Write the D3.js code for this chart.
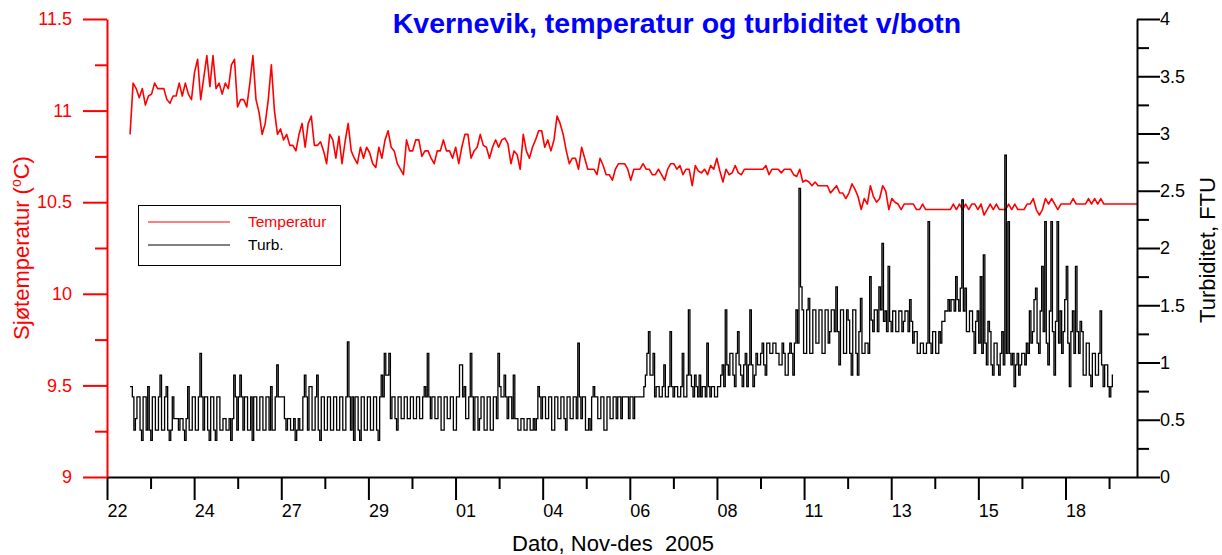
<!DOCTYPE html>
<html><head><meta charset="utf-8">
<script src="https://cdn.jsdelivr.net/npm/d3@7"></script>
<style>
body{margin:0;background:#fff;}
svg{display:block;font-family:"Liberation Sans",Arial,Helvetica,sans-serif;}
</style></head><body>
<svg id="chart" width="1222" height="555"></svg>
<script>
// time: days after 22 Nov 2005 00:00; both series start 22 Nov 15:00
const sampleStartDay = 0.625;
const tempStepDays = 2 / 24;   // temperature every 2 hours
const turbStepDays = 1 / 24;   // turbidity every hour
const xEndDay = 27.94;

// x tick labels (day of month), evenly spaced ticks
const xTickLabels = ['22','24','27','29','01','04','06','08','11','13','15','18'];
const xTickSpacingDays = 26 / 11;

const tempTicks = [9, 9.5, 10, 10.5, 11, 11.5];
const tempMinorTicks = [9.25, 9.75, 10.25, 10.75, 11.25];
const turbTicks = [0, 0.5, 1, 1.5, 2, 2.5, 3, 3.5, 4];
const turbMinorTicks = [0.25, 0.75, 1.25, 1.75, 2.25, 2.75, 3.25, 3.75];

const legendLabels = ['Temperatur', 'Turb.'];

// Sea temperature (°C)
const temperature = [
10.87,11.15,11.12,11.07,11.12,11.03,11.08,11.09,11.15,11.12,
11.12,11.12,11.06,11.04,11.08,11.08,11.15,11.08,11.15,11.09,
11.06,11.21,11.28,11.06,11.18,11.30,11.13,11.30,11.12,11.15,
11.09,11.15,11.12,11.25,11.28,11.02,11.06,11.06,11.02,11.15,
11.30,11.06,10.99,10.87,10.93,11.06,11.25,11.00,10.87,10.90,
10.84,10.87,10.81,10.81,10.78,10.87,10.93,10.80,10.93,10.97,
10.81,10.81,10.83,10.78,10.71,10.87,10.84,10.74,10.86,10.71,
10.83,10.93,10.78,10.74,10.71,10.80,10.74,10.80,10.77,10.71,
10.69,10.80,
10.74,10.84,10.89,10.80,10.78,10.71,10.68,10.65,10.84,10.78,
10.78,10.84,10.84,10.75,10.78,10.78,10.74,10.71,10.78,10.78,
10.84,10.78,10.78,10.74,10.80,10.71,10.80,10.87,10.87,10.74,
10.78,10.80,10.87,10.81,10.80,10.74,10.80,10.84,10.80,10.84,
10.85,10.82,10.71,10.78,10.76,10.68,10.87,10.78,10.74,10.80,
10.84,10.89,10.89,10.80,10.84,10.78,10.84,10.97,10.93,10.87,
10.78,10.71,10.74,10.74,10.68,10.80,10.74,10.68,10.68,10.68,
10.65,10.74,10.70,10.65,10.65,10.62,10.68,10.71,10.71,10.71,
10.68,10.62,
10.68,10.68,10.68,10.71,10.68,10.68,10.65,10.65,10.68,10.65,
10.62,10.68,10.71,10.71,10.68,10.70,10.65,10.68,10.68,10.59,
10.70,10.67,10.66,10.68,10.65,10.70,10.68,10.74,10.67,10.61,
10.68,10.65,10.66,10.70,10.66,10.65,10.68,10.68,10.68,10.68,
10.68,10.68,10.68,10.70,10.65,10.68,10.68,10.68,10.66,10.68,
10.68,10.68,10.65,10.64,10.68,10.61,10.62,10.61,10.59,10.61,
10.59,10.59,10.59,10.59,10.55,10.57,10.59,10.55,10.55,10.52,
10.55,10.60,10.57,10.53,10.46,10.52,10.49,10.59,10.53,10.50,
10.52,
10.59,10.56,10.46,10.52,10.50,10.49,10.46,10.49,10.49,10.49,
10.49,10.46,10.46,10.49,10.46,10.46,10.46,10.46,10.46,10.46,
10.46,10.46,10.46,10.49,10.46,10.49,10.46,10.49,10.46,10.49,
10.49,10.46,10.49,10.43,10.46,10.49,10.46,10.49,10.46,10.46,
10.46,10.49,10.46,10.49,10.46,10.46,10.46,10.49,10.49,10.52,
10.46,10.43,10.46,10.52,10.49,10.52,10.49,10.46,10.49,10.49,
10.49,10.49,10.52,10.49,10.49,10.49,10.49,10.52,10.49,10.52,
10.49,10.52,10.49,10.49,10.49,10.49,10.49,10.49,10.49,10.49,
10.49,10.49,10.49,10.49
];

// Turbidity (FTU), hourly
const turbidity = [
0.79,0.79,0.70,0.41,0.51,0.70,0.70,0.41,0.32,0.70,0.70,0.41,0.79,0.41,0.32,0.70,0.70,0.41,0.41,0.70,
0.89,0.41,0.41,0.70,0.79,0.41,0.32,0.41,0.70,0.51,0.51,0.51,0.41,0.51,0.51,0.41,0.32,0.51,0.79,0.41,
0.41,0.70,0.70,0.41,0.41,0.70,1.08,0.70,0.41,0.70,0.70,0.41,0.32,0.70,0.70,0.41,0.32,0.70,0.70,0.41,
0.41,0.51,0.51,0.41,0.41,0.51,0.32,0.51,0.89,0.70,0.41,0.70,0.89,0.70,0.41,0.70,0.70,0.41,0.41,0.70,
0.32,0.70,0.70,0.41,0.41,0.70,0.70,0.41,0.41,0.70,0.70,0.41,0.79,0.41,0.41,0.70,0.98,0.70,0.70,0.70,
0.70,0.51,0.41,0.51,0.51,0.41,0.41,0.51,0.32,0.41,0.51,0.41,0.41,0.70,0.89,0.70,0.41,0.79,0.79,0.41,
0.41,0.70,0.89,0.41,0.32,0.70,0.70,0.41,0.41,0.70,0.70,0.41,0.41,0.70,0.70,0.41,0.41,0.70,0.70,0.41,
0.41,0.70,1.18,0.70,0.41,0.70,0.32,0.70,0.70,0.41,0.32,0.70,0.70,0.41,0.41,0.70,0.70,0.41,0.41,0.70,
0.70,0.41,0.32,0.70,
0.89,0.70,1.08,0.89,0.89,1.08,0.51,0.70,0.70,0.51,0.41,0.70,0.70,0.51,0.51,0.70,0.70,0.51,0.51,0.70,
0.70,0.51,0.51,0.70,0.70,0.51,0.51,0.70,0.79,0.70,1.08,0.70,0.51,0.70,0.70,0.51,0.51,0.70,0.70,0.41,
0.41,0.70,0.70,0.51,0.51,0.70,0.70,0.41,0.41,0.70,0.70,0.98,0.98,0.70,0.79,0.51,0.51,0.70,1.08,0.70,
0.41,0.70,0.70,0.41,0.51,0.70,0.70,0.41,0.41,0.70,0.70,0.41,0.41,0.70,0.70,0.51,1.08,0.79,0.70,0.70,
0.89,0.70,0.51,0.70,0.70,0.51,0.89,0.51,0.51,0.41,0.41,0.51,0.51,0.41,0.41,0.51,0.51,0.41,0.41,0.51,
0.41,0.51,0.79,0.70,0.51,0.70,0.70,0.51,0.51,0.70,0.70,0.41,0.41,0.70,0.70,0.51,0.51,0.70,0.70,0.51,
0.41,0.70,0.70,0.51,0.51,0.70,0.70,0.51,1.17,0.70,0.51,0.70,0.70,0.41,0.41,0.51,0.41,0.70,0.79,0.70,
0.70,0.51,0.51,0.70,0.70,0.41,0.41,0.70,0.70,0.51,0.51,0.70,0.70,0.51,0.70,0.70,0.51,0.70,0.70,0.70,
0.70,0.51,0.70,0.70,
0.51,0.70,0.70,0.70,0.70,0.70,0.70,0.79,0.89,1.08,1.27,0.89,0.89,1.08,0.70,0.79,0.79,0.70,0.70,0.79,
0.98,0.70,0.70,0.79,1.27,0.79,0.70,0.79,0.79,0.70,0.70,0.79,1.08,0.70,0.70,0.89,1.46,0.89,0.79,0.70,
0.89,0.79,0.70,0.89,0.70,0.79,0.79,0.70,1.17,0.79,0.70,0.79,0.79,0.70,0.70,0.79,0.79,0.89,0.98,0.79,
1.46,0.98,0.89,1.08,1.08,0.89,0.79,1.08,1.27,0.98,0.89,0.79,0.98,1.08,0.79,0.98,1.46,0.98,0.79,0.89,
1.08,0.98,0.98,1.08,1.17,0.98,0.89,1.17,1.17,1.08,1.08,1.17,1.17,1.08,1.08,0.98,0.98,1.17,1.08,0.89,
0.89,1.08,1.17,1.08,0.89,1.17,1.46,1.17,2.52,1.66,1.46,1.08,1.08,1.46,1.56,1.08,1.08,1.46,1.46,1.17,
1.17,1.46,1.46,1.08,1.08,1.46,1.46,1.17,1.27,1.46,1.46,1.27,1.66,1.27,0.98,1.46,1.46,1.08,1.08,1.46,
1.37,1.08,0.89,1.46,1.46,1.08,0.89,1.27,1.56,1.08,1.08,1.17,1.17,1.08,1.75,1.37,1.27,1.46,1.46,1.27,
1.66,1.46,
2.04,1.36,1.45,1.27,1.84,1.36,1.27,1.45,1.45,1.27,1.27,1.45,1.45,1.27,1.36,1.45,1.45,1.27,1.55,1.36,
1.17,1.27,1.27,1.08,1.08,1.17,1.17,1.08,1.08,1.17,2.23,1.17,1.08,1.27,1.27,1.08,1.08,1.27,1.17,1.36,
1.36,1.45,1.45,1.55,1.45,1.55,1.55,1.45,1.75,1.55,1.45,1.65,2.42,1.45,1.65,1.27,1.27,1.45,1.45,1.27,
1.08,1.36,1.45,1.17,1.75,1.08,1.94,1.17,0.98,1.36,1.27,0.98,0.89,1.17,1.17,0.98,0.89,1.08,1.27,0.98,
2.81,1.08,2.23,1.08,0.98,1.08,0.79,0.98,1.08,0.89,0.98,1.08,1.08,0.98,1.17,1.08,1.45,1.17,1.27,1.55,
1.65,1.17,1.08,1.45,1.84,1.27,2.23,1.17,0.98,1.45,2.23,1.27,0.89,1.36,2.23,1.17,1.45,1.08,1.27,1.55,
1.84,1.17,0.79,1.27,1.45,1.08,1.84,1.27,1.08,1.36,1.27,0.89,0.89,1.17,1.17,0.89,0.79,1.08,1.08,0.89,
0.89,1.08,1.45,0.98,0.79,0.98,0.98,0.79,0.70,0.79,0.89
];

const svg = d3.select('#chart');
const L = 107, R = 1137, T = 19, B = 477;
const RED = '#ff0000';

const x = d3.scaleLinear().domain([0, xEndDay]).range([L, R]);
const yT = d3.scaleLinear().domain([9, 11.5]).range([B, T]);
const yB = d3.scaleLinear().domain([0, 4]).range([B, T]);

const xMajor = xTickLabels.map((_, i) => i * xTickSpacingDays);
const xMinor = xTickLabels.map((_, i) => (i + 0.5) * xTickSpacingDays).filter(d => d < xEndDay);

function styleAxis(g, color, fs) {
  g.selectAll('path').attr('stroke', color).attr('stroke-width', 2);
  g.selectAll('line').attr('stroke', color).attr('stroke-width', 2);
  g.selectAll('text').attr('fill', color).style('font-size', fs + 'px').style('font-family', '"Liberation Sans",Arial,sans-serif');
}

// series
svg.append('path').datum(temperature)
  .attr('fill', 'none').attr('stroke', RED).attr('stroke-width', 1.6).attr('stroke-linejoin', 'round')
  .attr('d', d3.line().x((d, i) => x(sampleStartDay + i * tempStepDays)).y(d => yT(d)));
svg.append('path').datum(turbidity)
  .attr('fill', 'none').attr('stroke', '#000').attr('stroke-width', 1.3)
  .attr('d', d3.line().curve(d3.curveStep).x((d, i) => x(sampleStartDay + i * turbStepDays)).y(d => yB(d)));

// bottom axis
const gxm = svg.append('g').attr('transform', `translate(0,${B})`)
  .call(d3.axisBottom(x).tickValues(xMinor).tickSize(12).tickSizeOuter(0).tickFormat(''));
gxm.select('.domain').remove();
styleAxis(gxm, '#000', 18);
const gx = svg.append('g').attr('transform', `translate(0,${B})`)
  .call(d3.axisBottom(x).tickValues(xMajor).tickSize(23).tickSizeOuter(0).tickPadding(4)
    .tickFormat((d, i) => xTickLabels[i]));
styleAxis(gx, '#000', 18);
gx.selectAll('text').attr('text-anchor', 'start');

// left axis (temperature)
const gym = svg.append('g').attr('transform', `translate(${L},0)`)
  .call(d3.axisLeft(yT).tickValues(tempMinorTicks).tickSize(12).tickSizeOuter(0).tickFormat(''));
gym.select('.domain').remove();
styleAxis(gym, RED, 18);
const gy = svg.append('g').attr('transform', `translate(${L},0)`)
  .call(d3.axisLeft(yT).tickValues(tempTicks).tickSize(24).tickSizeOuter(0).tickPadding(11)
    .tickFormat(d => String(d)));
styleAxis(gy, RED, 18);

// right axis (turbidity)
const grm = svg.append('g').attr('transform', `translate(${R},0)`)
  .call(d3.axisRight(yB).tickValues(turbMinorTicks).tickSize(12).tickSizeOuter(0).tickFormat(''));
grm.select('.domain').remove();
styleAxis(grm, '#000', 18);
const gr = svg.append('g').attr('transform', `translate(${R},0)`)
  .call(d3.axisRight(yB).tickValues(turbTicks).tickSize(23).tickSizeOuter(0).tickPadding(0)
    .tickFormat(d => String(d)));
styleAxis(gr, '#000', 18);

// title
svg.append('text').attr('x', 677).attr('y', 33).attr('text-anchor', 'middle')
  .attr('fill', '#0000ff').style('font-weight', 'bold').style('font-size', '28.5px')
  .text('Kvernevik, temperatur og turbiditet v/botn');

// axis titles
const lt = svg.append('text').attr('transform', 'translate(29,248) rotate(-90)')
  .attr('text-anchor', 'middle').attr('fill', RED).style('font-size', '22px');
lt.append('tspan').text('Sjøtemperatur (');
lt.append('tspan').attr('dy', -8).style('font-size', '14px').text('o');
lt.append('tspan').attr('dy', 8).text('C)');

svg.append('text').attr('transform', 'translate(1215,250) rotate(-90)')
  .attr('text-anchor', 'middle').attr('fill', '#000').style('font-size', '22px')
  .text('Turbiditet, FTU');

svg.append('text').attr('x', 613).attr('y', 551).attr('text-anchor', 'middle')
  .attr('fill', '#000').style('font-size', '22px').style('white-space', 'pre')
  .attr('xml:space', 'preserve')
  .text('Dato, Nov-des  2005');

// legend
const lg = svg.append('g');
lg.append('rect').attr('x', 138.5).attr('y', 205.5).attr('width', 202).attr('height', 60)
  .attr('fill', '#fff').attr('stroke', '#000').attr('stroke-width', 1);
const legendColors = [RED, '#000'];
legendLabels.forEach((lab, i) => {
  const yy = 222 + i * 23;
  lg.append('line').attr('x1', 148).attr('x2', 230).attr('y1', yy).attr('y2', yy)
    .attr('stroke', legendColors[i]).attr('stroke-width', 1);
  lg.append('text').attr('x', 248).attr('y', yy + 5).attr('fill', legendColors[i])
    .style('font-size', '15.5px').text(lab);
});
</script>
</body></html>
